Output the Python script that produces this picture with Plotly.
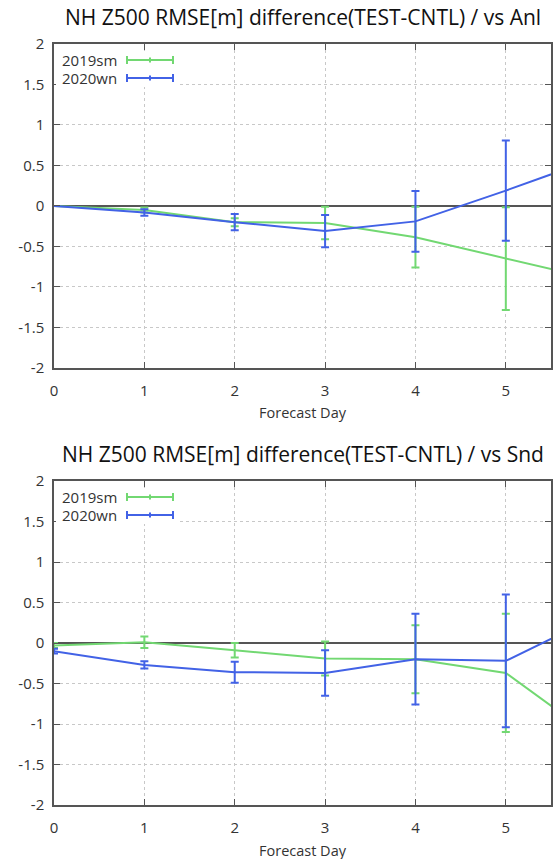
import plotly.graph_objects as go

# ---------------- data ----------------
days = [0, 1, 2, 3, 4, 5, 6]
series_names = ["2019sm", "2020wn"]

# vs Anl
anl_2019sm = [0.0, -0.05, -0.20, -0.21, -0.385, -0.65, -0.91]
anl_2019sm_err = [0.0, 0.03, 0.05, 0.20, 0.375, 0.635, 0.70]
anl_2020wn = [0.0, -0.08, -0.20, -0.31, -0.19, 0.19, 0.59]
anl_2020wn_err = [0.0, 0.04, 0.10, 0.20, 0.375, 0.62, 0.70]

# vs Snd
snd_2019sm = [-0.03, 0.01, -0.09, -0.19, -0.20, -0.37, -1.18]
snd_2019sm_err = [0.03, 0.07, 0.09, 0.21, 0.42, 0.73, 0.80]
snd_2020wn = [-0.10, -0.27, -0.36, -0.37, -0.20, -0.22, 0.32]
snd_2020wn_err = [0.03, 0.045, 0.13, 0.28, 0.56, 0.82, 0.85]

titles = ["NH Z500 RMSE[m] difference(TEST-CNTL) / vs Anl",
          "NH Z500 RMSE[m] difference(TEST-CNTL) / vs Snd"]
x_title = "Forecast Day"
y_ticks = [2, 1.5, 1, 0.5, 0, -0.5, -1, -1.5, -2]
y_ticktext = ["2", "1.5", "1", "0.5", "0", "-0.5", "-1", "-1.5", "-2"]
x_ticks = [0, 1, 2, 3, 4, 5]

colors = {"2019sm": "#72d872", "2020wn": "#4262e6"}
FONT = "Open Sans"
TXT = "#333333"

fig = go.Figure()

panels = [
    ("x", "y", {"2019sm": (anl_2019sm, anl_2019sm_err), "2020wn": (anl_2020wn, anl_2020wn_err)}),
    ("x2", "y2", {"2019sm": (snd_2019sm, snd_2019sm_err), "2020wn": (snd_2020wn, snd_2020wn_err)}),
]

for xa, ya, data in panels:
    for name in series_names:
        vals, errs = data[name]
        fig.add_trace(go.Scatter(
            x=days, y=vals, mode="lines", name=name,
            line=dict(color=colors[name], width=2),
            error_y=dict(type="data", array=errs, visible=True,
                         color=colors[name], thickness=2, width=4),
            xaxis=xa, yaxis=ya, showlegend=False,
        ))

top_dom = [0.5743, 1.0]
bot_dom = [0.0, 0.4257]

axis_common = dict(
    showline=True, linecolor="#555555", linewidth=1.5, mirror="ticks",
    ticks="inside", ticklen=6, tickwidth=1, tickcolor="#555555",
    showgrid=True, gridcolor="#c8c8c8", gridwidth=1, griddash="dot",
    tickfont=dict(family=FONT, size=15, color=TXT),
    automargin=False,
)

fig.update_layout(
    width=558, height=859,
    margin=dict(l=54, r=7, t=44, b=54),
    paper_bgcolor="white", plot_bgcolor="white",
    showlegend=False,
    font=dict(family=FONT, color=TXT),
    xaxis=dict(domain=[0, 1], anchor="y", range=[0, 5.5], tickvals=x_ticks,
               ticktext=[str(v) for v in x_ticks], zeroline=False,
               ticklabelstandoff=8, **axis_common),
    yaxis=dict(domain=top_dom, anchor="x", range=[-2, 2], tickvals=y_ticks,
               ticktext=y_ticktext, zeroline=True, zerolinecolor="#555555",
               zerolinewidth=1.5, ticklabelstandoff=5, **axis_common),
    xaxis2=dict(domain=[0, 1], anchor="y2", range=[0, 5.5], tickvals=x_ticks,
                ticktext=[str(v) for v in x_ticks], zeroline=False,
                ticklabelstandoff=8, **axis_common),
    yaxis2=dict(domain=bot_dom, anchor="x2", range=[-2, 2], tickvals=y_ticks,
                ticktext=y_ticktext, zeroline=True, zerolinecolor="#555555",
                zerolinewidth=1.5, ticklabelstandoff=5, **axis_common),
)

annotations = []
shapes = []
for i, (xa, ya, _) in enumerate(panels):
    xd = xa + " domain"
    yd = ya + " domain"
    # title
    annotations.append(dict(text=titles[i], xref=xd, yref=yd, x=0.5, y=1,
                            yshift=27, xanchor="center", yanchor="middle",
                            showarrow=False,
                            font=dict(family=FONT, size=21, color="#111111")))
    # x axis title
    annotations.append(dict(text=x_title, xref=xd, yref=yd, x=0.5, y=0,
                            yshift=-45, xanchor="center", yanchor="middle",
                            showarrow=False,
                            font=dict(family=FONT, size=14.5, color=TXT)))
    # key background (hides grid behind the key)
    shapes.append(dict(type="rect", xref=xd, yref=yd, layer="above",
                       xsizemode="pixel", ysizemode="pixel", xanchor=0, yanchor=1,
                       x0=2, x1=124, y0=-7, y1=-43,
                       fillcolor="white", line=dict(width=0)))
    for k, name in enumerate(series_names):
        dy = -16 - 18 * k
        annotations.append(dict(text=name, xref=xd, yref=yd, x=0, y=1,
                                xshift=65, yshift=dy, xanchor="right",
                                yanchor="middle", showarrow=False,
                                font=dict(family=FONT, size=15, color=TXT)))
        c = colors[name]
        common = dict(type="line", xref=xd, yref=yd, xsizemode="pixel",
                      ysizemode="pixel", xanchor=0, yanchor=1, layer="above")
        shapes.append(dict(**common, x0=73, x1=119, y0=dy, y1=dy,
                           line=dict(color=c, width=2)))
        for cx, h in ((73, 4), (119, 4), (96, 2.5)):
            shapes.append(dict(**common, x0=cx, x1=cx, y0=dy - h, y1=dy + h,
                               line=dict(color=c, width=2)))

fig.update_layout(annotations=annotations, shapes=shapes)

fig.write_html("out.html")
